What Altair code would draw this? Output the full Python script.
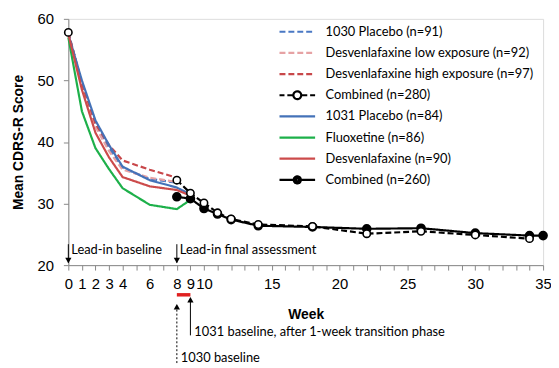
import altair as alt
import pandas as pd

# ---------------- data ----------------
series_names = [
    "1030 Placebo (n=91)",
    "Desvenlafaxine low exposure (n=92)",
    "Desvenlafaxine high exposure (n=97)",
    "Combined (n=280)",
    "1031 Placebo (n=84)",
    "Fluoxetine (n=86)",
    "Desvenlafaxine (n=90)",
    "Combined (n=260)",
]
series_colors = ["#4A78C4", "#E6A2A4", "#C8474A", "#000000",
                 "#4472B8", "#1DB04A", "#CC4B4B", "#000000"]
dashed_series = series_names[:4]

weeks_1030 = [0, 1, 2, 3, 4, 6, 8]
placebo_1030 = [57.8, 49.5, 43.0, 39.0, 35.8, 34.0, 33.4]
low_exposure = [57.8, 49.0, 42.5, 38.5, 35.5, 34.2, 33.5]
high_exposure = [57.8, 49.5, 43.0, 39.5, 37.0, 35.5, 34.2]

weeks_1031 = [0, 1, 2, 3, 4, 6, 8, 9]
placebo_1031 = [57.5, 50.0, 43.5, 39.5, 36.0, 33.8, 32.6, 31.5]
fluoxetine = [57.0, 45.0, 39.0, 35.6, 32.5, 29.8, 29.1, 30.6]
desvenlafaxine = [57.5, 48.5, 41.5, 37.5, 34.3, 32.8, 32.2, 31.3]

weeks_combined_280 = [0, 8, 9, 10, 11, 12, 14, 18, 22, 26, 30, 34]
combined_280 = [57.8, 33.8, 31.7, 30.1, 28.5, 27.5, 26.6, 26.3, 25.1, 25.5, 24.9, 24.3]

weeks_combined_260 = [8, 9, 10, 11, 12, 14, 18, 22, 26, 30, 34, 35]
combined_260 = [31.1, 30.8, 29.2, 28.3, 27.4, 26.4, 26.2, 25.9, 26.0, 25.2, 24.8, 24.8]

x_tick_labels = [0, 1, 2, 3, 4, 6, 8, 9, 10, 15, 20, 25, 30, 35]
y_ticks = [20, 30, 40, 50, 60]

top_notes_weeks = [0, 8]
top_notes = ["Lead-in baseline", "Lead-in final assessment"]
transition_weeks = [8, 9]
bottom_notes = ["1030 baseline", "1031 baseline, after 1-week transition phase"]

# ---------------- tables ----------------
rows = []
def add(name, weeks, vals):
    for w, v in zip(weeks, vals):
        seg = 0 if (name == "Combined (n=280)" and w == 0) else 1
        rows.append({"series": name, "week": w, "score": v, "seg": seg})

add(series_names[0], weeks_1030, placebo_1030)
add(series_names[1], weeks_1030, low_exposure)
add(series_names[2], weeks_1030, high_exposure)
add(series_names[4], weeks_1031, placebo_1031)
add(series_names[5], weeks_1031, fluoxetine)
add(series_names[6], weeks_1031, desvenlafaxine)
add(series_names[7], weeks_combined_260, combined_260)
add(series_names[3], weeks_combined_280, combined_280)
df = pd.DataFrame(rows)

FONT = "Lato"

x_scale = alt.Scale(domain=[0, 35], nice=False, zero=False)
y_scale = alt.Scale(domain=[20, 60], nice=False, zero=False)

label_list = "[" + ",".join(str(v) for v in x_tick_labels) + "]"
x_axis = alt.Axis(values=list(range(0, 36)),
                  labelExpr=f"indexof({label_list}, datum.value) >= 0 ? datum.label : ''",
                  title="Week", grid=False, labelFlush=False, labelOverlap=False,
                  tickSize=5, labelPadding=7, titlePadding=16,
                  labelFontSize=15, titleFontSize=14, titleFontWeight="bold")
y_axis = alt.Axis(values=y_ticks, title="Mean CDRS-R Score", grid=False,
                  tickSize=5, labelPadding=10, titlePadding=12, labelOverlap=False,
                  labelFontSize=15, titleFontSize=14, titleFontWeight="bold")

def X(field="week"):
    return alt.X(f"{field}:Q", scale=x_scale, axis=x_axis)

def Y(field="score"):
    return alt.Y(f"{field}:Q", scale=y_scale, axis=y_axis)

def Yd(v):
    return alt.Y(datum=v, type="quantitative", scale=y_scale, axis=y_axis)

# legend symbols: colour + dash from the line layer, shape from an empty helper layer
def ring(r):
    return f"M{r},0A{r},{r} 0 1 1 -{r},0A{r},{r} 0 1 1 {r},0"
open_path = "M-1,0H-0.72M-0.56,0H-0.24M0.24,0H0.56M0.72,0H1" + ring(0.22)
filled_path = "M-1,0H-0.2M0.2,0H1" + ring(0.2) + ring(0.14) + ring(0.08) + ring(0.03)
legend_shapes = ["stroke", "stroke", "stroke", open_path, "stroke", "stroke", "stroke", filled_path]
legend_dashes = [[6, 3], [6, 3], [6, 3], [1, 0], [1, 0], [1, 0], [1, 0], [1, 0]]

legend = alt.Legend(
    title=None, orient="none", legendX=212, legendY=5,
    symbolSize=1296, symbolStrokeWidth=2.2, symbolOpacity=1,
    clipHeight=16, rowPadding=5.4, labelOffset=9, labelLimit=400,
    labelFontSize=13, labelFont=FONT, labelColor="#000",
)

color_enc = alt.Color("series:N", scale=alt.Scale(domain=series_names, range=series_colors),
                      legend=legend)
dash_enc = alt.StrokeDash("series:N", scale=alt.Scale(domain=series_names, range=legend_dashes),
                          legend=legend)

base = alt.Chart(df)

lines = base.transform_filter(alt.datum.series != "Combined (n=280)").mark_line(
    strokeWidth=2.2).encode(
    x=X(), y=Y(), color=color_enc, strokeDash=dash_enc,
    detail="seg:N", order="week:Q",
)

combined_280_line = base.transform_filter(alt.datum.series == "Combined (n=280)").mark_line(
    strokeWidth=2.2, color="#000", strokeDash=[6, 3]).encode(
    x=X(), y=Y(), detail="seg:N", order="week:Q",
)

legend_layer = base.transform_filter("false").mark_point(opacity=1).encode(
    x=X(), y=Y(), color=color_enc,
    shape=alt.Shape("series:N", scale=alt.Scale(domain=series_names, range=legend_shapes),
                    legend=legend),
)

filled_pts = base.transform_filter(alt.datum.series == "Combined (n=260)").mark_point(
    shape="circle", filled=True, fill="#000", stroke="#000", size=60, opacity=1
).encode(x=X(), y=Y())

open_pts = base.transform_filter(alt.datum.series == "Combined (n=280)").mark_point(
    shape="circle", filled=True, fill="#fff", stroke="#000", strokeWidth=1.6, size=55, opacity=1
).encode(x=X(), y=Y())

# ---------- annotations ----------
top_df = pd.DataFrame({"week": top_notes_weeks, "note": top_notes})
top_rules = alt.Chart(top_df).mark_rule(color="#000", strokeWidth=1).encode(
    x=X(), y=Yd(23.4), y2=alt.Y2(datum=20.4))
top_heads = alt.Chart(top_df).mark_point(shape="triangle-down", filled=True, color="#000",
                                         size=40, opacity=1).encode(x=X(), y=Yd(20.75))
top_text = alt.Chart(top_df).mark_text(align="left", baseline="middle", dx=3, fontSize=13,
                                       font=FONT, color="#000").encode(
    x=X(), y=Yd(22.4), text="note:N")

trans_df = pd.DataFrame({"week": [transition_weeks[0]], "week_end": [transition_weeks[1]]})
red_bar = alt.Chart(trans_df).mark_rule(color="#E02020", strokeWidth=3.5).encode(
    x=X(), x2="week_end:Q", y=alt.value(279))

b1030 = pd.DataFrame({"week": [transition_weeks[0]], "note": [bottom_notes[0]]})
b1031 = pd.DataFrame({"week": [transition_weeks[1]], "note": [bottom_notes[1]]})

r1030 = alt.Chart(b1030).mark_rule(color="#000", strokeWidth=1, strokeDash=[2, 2]).encode(
    x=X(), y=alt.value(348), y2=alt.value(292))
h1030 = alt.Chart(b1030).mark_point(shape="triangle-up", filled=True, color="#000",
                                    size=40, opacity=1).encode(x=X(), y=alt.value(291))
t1030 = alt.Chart(b1030).mark_text(align="left", baseline="middle", dx=4, fontSize=13,
                                   font=FONT, color="#000").encode(
    x=X(), y=alt.value(343), text="note:N")

r1031 = alt.Chart(b1031).mark_rule(color="#000", strokeWidth=1).encode(
    x=X(), y=alt.value(320), y2=alt.value(286))
h1031 = alt.Chart(b1031).mark_point(shape="triangle-up", filled=True, color="#000",
                                    size=40, opacity=1).encode(x=X(), y=alt.value(284))
t1031 = alt.Chart(b1031).mark_text(align="left", baseline="middle", dx=4, fontSize=13,
                                   font=FONT, color="#000").encode(
    x=X(), y=alt.value(317), text="note:N")

chart = alt.layer(
    lines, combined_280_line, legend_layer, filled_pts, open_pts,
    top_rules, top_heads, top_text,
    red_bar, r1030, h1030, t1030, r1031, h1031, t1031,
).properties(
    width=480, height=249,
    autosize=alt.AutoSizeParams(type="none"),
    padding={"left": 61, "top": 9, "right": 8, "bottom": 100},
).configure_view(stroke=None).configure_axis(
    labelFont=FONT, titleFont=FONT, labelColor="#000", titleColor="#000",
    domainColor="#000", tickColor="#000", domainWidth=1.2, tickWidth=1.2,
    labelOverlap=False,
).configure(background="white")

chart.save("out.html", embed_options={"renderer": "svg", "actions": False})
